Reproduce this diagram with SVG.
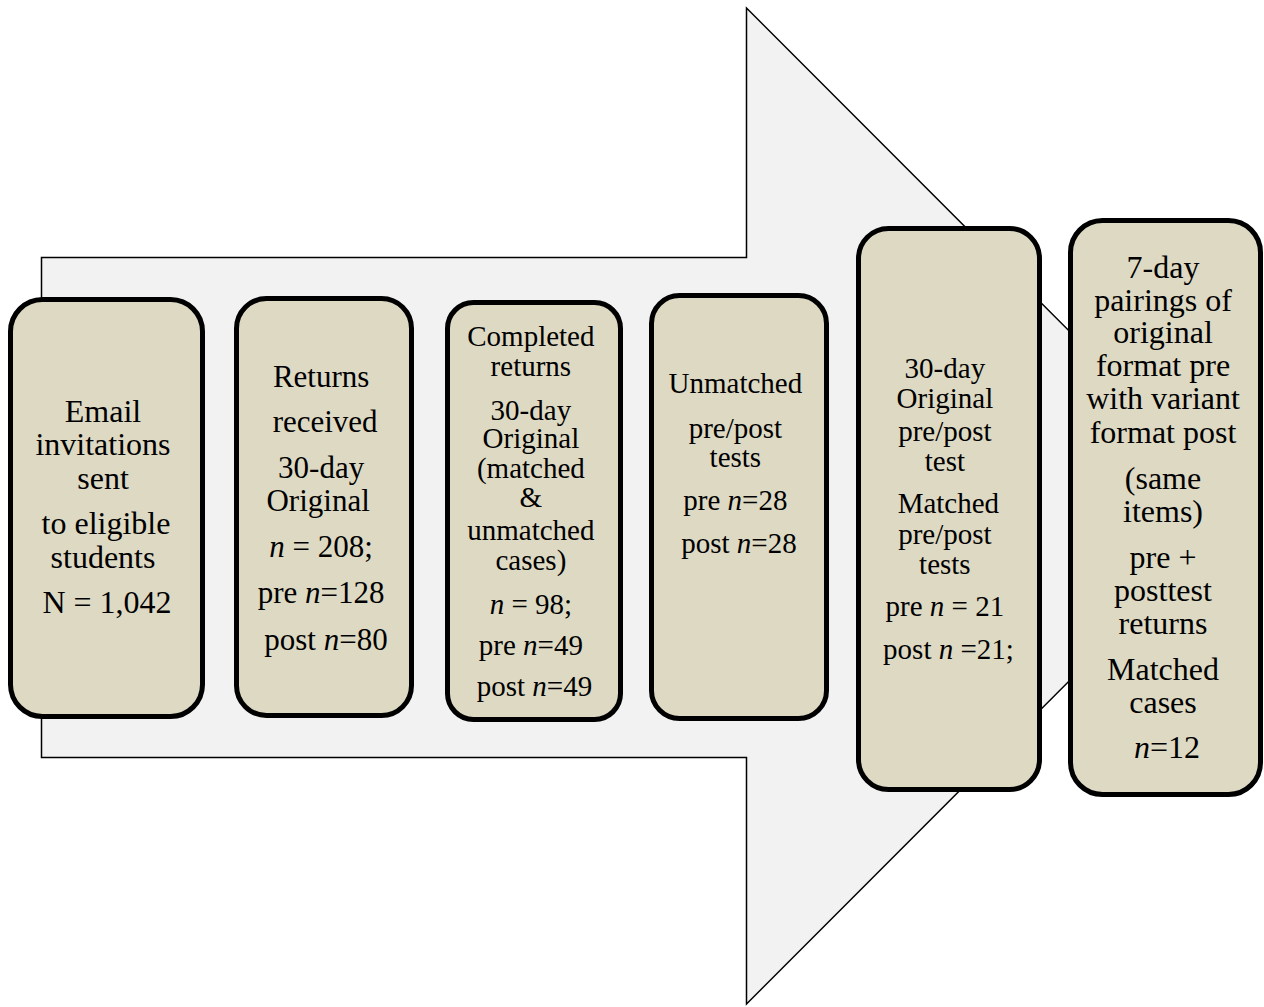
<svg xmlns="http://www.w3.org/2000/svg" width="1264" height="1007" viewBox="0 0 1264 1007">
<style>
.box{fill:#ddd9c3;stroke:#000;stroke-width:5}
text{font-family:"Liberation Serif","Times New Roman",serif;fill:#000;text-anchor:middle}
.i{font-style:italic}
</style>
<rect width="1264" height="1007" fill="#fff"/>
<g id="connectors">
<polygon id="arrow" points="41.5,257.5 746.5,257.5 746.5,8 1244,506 746.5,1004 746.5,757.5 41.5,757.5" fill="#f2f2f2" stroke="#000" stroke-width="1.5"/>
</g>
<g id="n1">
<rect class="box" x="10.5" y="299.5" width="192" height="417" rx="32"/>
<text font-size="32">
<tspan x="107" y="421.5">Email</tspan>
<tspan x="107" y="455">invitations</tspan>
<tspan x="107" y="488.5">sent</tspan>
<tspan x="110" y="534">to eligible</tspan>
<tspan x="107" y="567.5">students</tspan>
<tspan x="107" y="613">N = 1,042</tspan>
</text>
</g>
<g id="n2">
<rect class="box" x="236.5" y="298.5" width="175" height="417" rx="30"/>
<text font-size="31">
<tspan x="325" y="386.5">Returns</tspan>
<tspan x="329" y="431.5">received</tspan>
<tspan x="325" y="478">30-day</tspan>
<tspan x="322" y="510.5">Original</tspan>
<tspan x="325" y="557"><tspan class="i">n</tspan> = 208;</tspan>
<tspan x="325" y="603">pre <tspan class="i">n</tspan>=128</tspan>
<tspan x="326" y="650">post <tspan class="i">n</tspan>=80</tspan>
</text>
</g>
<g id="n3">
<rect class="box" x="447.5" y="302.5" width="173" height="417" rx="26"/>
<text font-size="29">
<tspan x="534.5" y="346">Completed</tspan>
<tspan x="534.5" y="376">returns</tspan>
<tspan x="534.5" y="420">30-day</tspan>
<tspan x="534.5" y="448">Original</tspan>
<tspan x="534.5" y="478">(matched</tspan>
<tspan x="534.5" y="507">&amp;</tspan>
<tspan x="534.5" y="540">unmatched</tspan>
<tspan x="534.5" y="570">cases)</tspan>
<tspan x="534.5" y="614"><tspan class="i">n</tspan> = 98;</tspan>
<tspan x="534.5" y="655">pre <tspan class="i">n</tspan>=49</tspan>
<tspan x="534.5" y="696">post <tspan class="i">n</tspan>=49</tspan>
</text>
</g>
<g id="n4">
<rect class="box" x="651.5" y="295.5" width="175" height="423" rx="28"/>
<text font-size="29">
<tspan x="739" y="393">Unmatched</tspan>
<tspan x="739" y="438">pre/post</tspan>
<tspan x="739" y="467">tests</tspan>
<tspan x="739" y="510">pre <tspan class="i">n</tspan>=28</tspan>
<tspan x="739" y="553">post <tspan class="i">n</tspan>=28</tspan>
</text>
</g>
<g id="n5">
<rect class="box" x="858.5" y="228.5" width="181" height="561" rx="30"/>
<text font-size="29">
<tspan x="948.5" y="378">30-day</tspan>
<tspan x="948.5" y="408">Original</tspan>
<tspan x="948.5" y="441">pre/post</tspan>
<tspan x="948.5" y="471">test</tspan>
<tspan x="952" y="513">Matched</tspan>
<tspan x="948.5" y="544">pre/post</tspan>
<tspan x="948.5" y="574">tests</tspan>
<tspan x="948.5" y="616">pre <tspan class="i">n</tspan> = 21</tspan>
<tspan x="948.5" y="659">post <tspan class="i">n</tspan> =21;</tspan>
</text>
</g>
<g id="n6">
<rect class="box" x="1070.5" y="220.5" width="190" height="574" rx="32"/>
<text font-size="32">
<tspan x="1167" y="278">7-day</tspan>
<tspan x="1167" y="310.5">pairings of</tspan>
<tspan x="1167" y="343">original</tspan>
<tspan x="1167" y="376">format pre</tspan>
<tspan x="1167" y="409">with variant</tspan>
<tspan x="1167" y="443">format post</tspan>
<tspan x="1167" y="489">(same</tspan>
<tspan x="1167" y="522">items)</tspan>
<tspan x="1167" y="568">pre +</tspan>
<tspan x="1167" y="601">posttest</tspan>
<tspan x="1167" y="634">returns</tspan>
<tspan x="1167" y="680">Matched</tspan>
<tspan x="1167" y="713">cases</tspan>
<tspan x="1167" y="758"><tspan class="i">n</tspan>=12</tspan>
</text>
</g>
</svg>
